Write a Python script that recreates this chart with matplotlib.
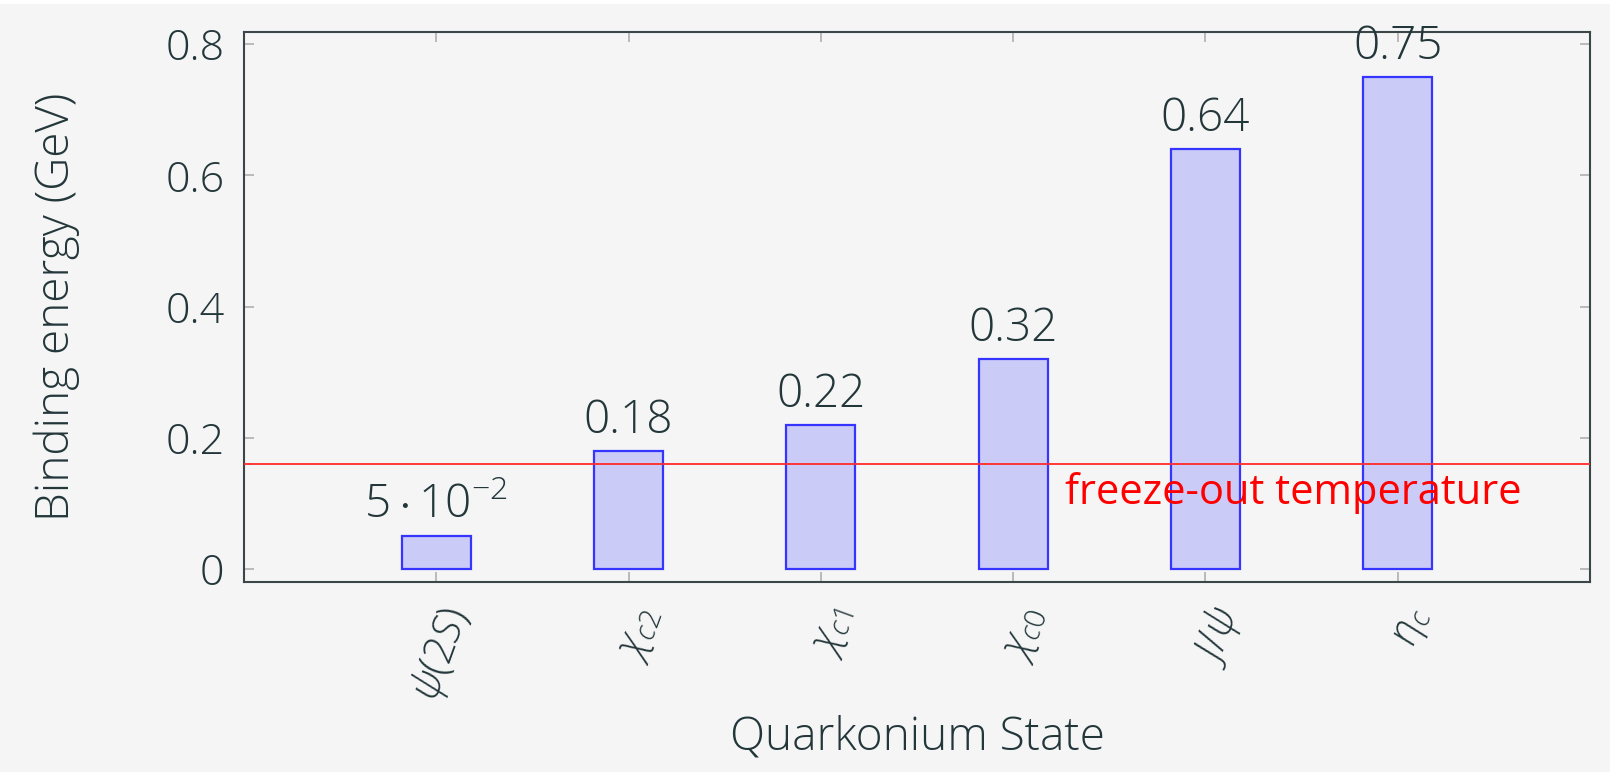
import numpy as np
import matplotlib.pyplot as plt
from matplotlib.patches import Rectangle

# data
states = [r'$\psi(2S)$', r'$\chi_{c2}$', r'$\chi_{c1}$', r'$\chi_{c0}$', r'$J/\psi$', r'$\eta_c$']
energies = [0.05, 0.18, 0.22, 0.32, 0.64, 0.75]
bar_labels = [r'$5 \cdot 10^{-2}$', '0.18', '0.22', '0.32', '0.64', '0.75']
freeze_out = 0.16
yticks = [0, 0.2, 0.4, 0.6, 0.8]
ytick_labels = ['0', '0.2', '0.4', '0.6', '0.8']

text_col = '#23373b'
bg = '#f5f5f5'

plt.rcParams['font.family'] = ['Open Sans', 'DejaVu Sans']
plt.rcParams['font.weight'] = 'light'
plt.rcParams['axes.labelweight'] = 'light'
plt.rcParams['mathtext.fontset'] = 'custom'
plt.rcParams['mathtext.rm'] = 'Open Sans:light'
plt.rcParams['mathtext.it'] = 'Open Sans:italic:light'
plt.rcParams['mathtext.bf'] = 'Open Sans:bold'

fig = plt.figure(figsize=(16.1, 7.72), dpi=100, facecolor=bg)
fig.patches.append(Rectangle((0, 1 - 4 / 772), 1, 4 / 772, transform=fig.transFigure,
                             facecolor='white', edgecolor='none'))
ax = fig.add_axes([0.15155, 0.24611, 0.83603, 0.71244])
ax.set_facecolor(bg)

x = np.arange(len(states))
ax.bar(x, energies, width=0.36, color='#cbcbf8', edgecolor='#3535ff', linewidth=1.6, zorder=2)

for xi, val, lab in zip(x, energies, bar_labels):
    ax.annotate(lab, (xi, val), xytext=(0, 5), textcoords='offset points',
                ha='center', va='bottom', fontsize=33, color=text_col, zorder=4)

ax.axhline(freeze_out, color='#ff2a2a', linewidth=1.3, zorder=3)
ax.text(3.27, freeze_out - 0.012, 'freeze-out temperature', color='red', fontsize=30,
        fontweight='normal', ha='left', va='top', zorder=4)

ax.set_xlim(-1, 6)
ax.set_ylim(-0.0198, 0.8183)
ax.set_yticks(yticks)
ax.set_yticklabels(ytick_labels)
ax.set_xticks(x)
ax.set_xticklabels(states, rotation=70, ha='right', rotation_mode='anchor', fontsize=30)

ax.tick_params(axis='both', direction='in', length=7, width=1.1, color='#aaaaaa',
               labelcolor=text_col, top=True, right=True)
ax.tick_params(axis='y', labelsize=31, pad=14)
ax.tick_params(axis='x', pad=14)

for s in ax.spines.values():
    s.set_color('#3b4649')
    s.set_linewidth(1.5)

ax.set_ylabel('Binding energy (GeV)', fontsize=33, color=text_col, va='center')
ax.yaxis.set_label_coords(-0.139, 0.5)
ax.set_xlabel('Quarkonium State', fontsize=33, color=text_col, va='center')
ax.xaxis.set_label_coords(0.5, -0.282)

plt.savefig('out.png', dpi=100, facecolor=bg)
